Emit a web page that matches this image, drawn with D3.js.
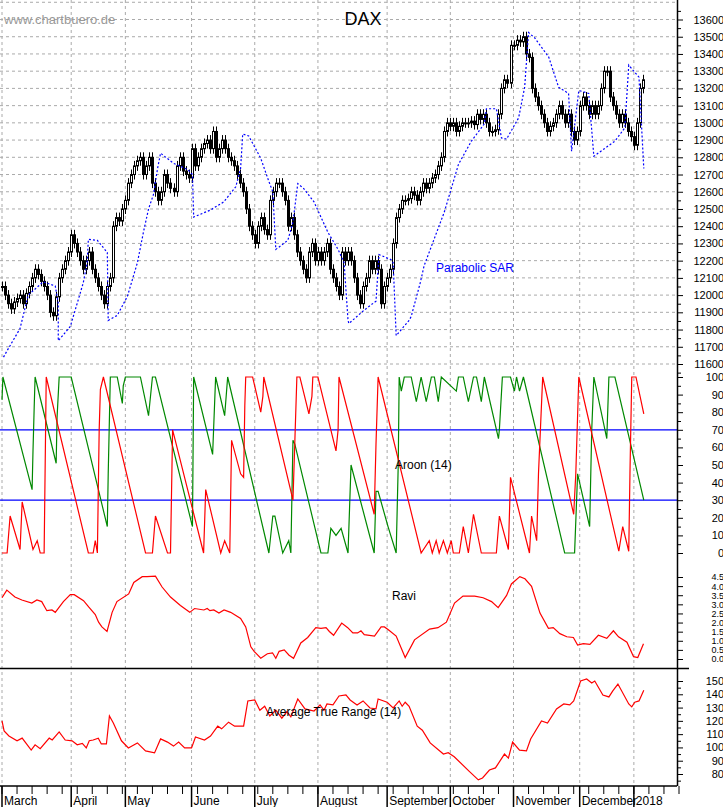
<!DOCTYPE html>
<html><head><meta charset="utf-8">
<script src="https://cdn.jsdelivr.net/npm/d3@7"></script>
<style>body{margin:0;background:#fff}svg{display:block;font-family:"Liberation Sans",Arial,sans-serif}</style>
</head><body><svg id="c" width="723" height="807"></svg>
<script>
const months=["March","April","May","June","July","August","September","October","November","December","2018"];
const monthStart=[0,23,41,63,84,105,128,149,170,192,210];
const closes=[12050,12000,11950,11920,11960,11980,12000,11950,12010,12050,12100,12150,12120,12080,12050,12000,11900,11880,11990,12100,12150,12200,12250,
12350,12300,12250,12200,12150,12200,12250,12150,12100,12050,12000,11950,12050,12100,12400,12450,12430,12500,
12550,12650,12700,12750,12780,12800,12700,12750,12800,12650,12600,12550,12600,12700,12650,12620,12600,12750,12800,12720,12700,12680,
12850,12750,12800,12850,12880,12900,12850,12950,12800,12850,12900,12850,12800,12780,12750,12700,12650,12600,12500,12400,12350,
12300,12400,12450,12380,12350,12550,12600,12650,12650,12600,12550,12400,12450,12350,12250,12200,12150,12100,12250,12300,12200,
12250,12200,12250,12300,12150,12100,12050,12000,12250,12200,12250,12200,12100,12000,11950,12050,12100,12200,12150,12200,12150,11950,12050,
12100,12150,12300,12450,12500,12550,12550,12560,12600,12580,12550,12600,12650,12620,12650,12680,12700,12750,12800,12950,13000,
12980,13000,12950,12980,13000,13000,13000,13010,12990,13050,13020,13050,13000,12950,12950,12960,13050,13200,13250,13230,13450,
13450,13480,13470,13500,13400,13380,13200,13150,13100,13050,13000,12950,12980,13000,13050,13100,13050,13000,13050,12950,12900,12950,
13100,13150,13100,13050,13100,13050,13100,13200,13300,13300,13150,13100,13050,13000,13050,13000,12950,12920,
12870,13000,13200,13250];
const sarDay=[0.5,1.7,6,8.7,13.7,17.7,18.7,18.7,22.7,25,27,28.3,28.7,31.7,35,35.3,38.3,41.7,45,47,48.7,50.3,51.7,52.7,57,61.7,63.3,63.7,69.3,73.7,77.7,79.3,80,82,86,88.7,90,91,95,96.7,98.3,100.3,103.7,108.3,111.7,113.7,115,115.3,120.3,124.3,125.3,129.3,130,131,135.3,136,139,140.3,147,151.7,156,160.3,161,164.3,165,166,167.7,171.7,173.7,175,177,181.7,185,188.3,189.3,191.7,195,196.7,203.7,207,208.3,211.7,213.3];
const sarVal=[11640,11677,11806,12000,12077,12053,11953,11735,11818,11953,12071,12188,12324,12318,12247,11853,11882,11994,12188,12365,12500,12582,12735,12824,12765,12729,12700,12453,12494,12541,12629,12735,12935,12924,12794,12659,12600,12265,12318,12424,12647,12618,12541,12365,12265,12188,11853,11835,11912,11965,12235,12206,12188,11765,11853,11876,12071,12171,12482,12759,12894,12994,13082,13082,13012,12912,12906,13029,13206,13524,13494,13382,13206,13171,12835,13188,13171,12806,12894,12971,13335,13265,12735];
const upDay=[0,0.3,10,10.3,10.7,11,18,18.3,19,23,35,35.3,36,38.3,40,40.3,41,46,48.7,50,51,63.3,63.7,70,71,74,75,88.7,90,90.7,93.3,95.3,96,96.7,97.3,106,108.3,109.3,111,112.7,115,116,123.7,124.3,125,128.3,131,131.7,132,132.7,133.7,136,137.7,139.3,141,142.7,143.7,145,146,151,151.7,153.3,155,156.7,157.7,159.3,160.3,165,165.3,166.3,169,170.3,171,172,173.3,187,190.3,191.3,195.3,196,196.7,201,201.7,203.7,213.3];
const upVal=[87,100,36,58,83,100,51,77,100,100,15,45,100,100,85,95,100,100,78,100,100,15,100,56,100,78,100,0,21,21,0,7,0,64,62,0,0,14,10,14,0,50,0,35,35,15,0,51,100,92,100,100,86,100,86,100,100,86,100,92,100,100,86,100,100,86,100,65,70,100,100,92,100,92,100,0,0,45,15,70,100,65,100,100,30];
const downDay=[0,1.7,2.7,6,6.7,10.3,11.7,12.7,14,14.3,14.7,28.7,30.3,31,31.7,32.3,32.7,33.7,47.7,50,51,55,56,56.7,67,67.7,72.7,74,75.7,76.3,79.3,80.3,80.7,81,83.3,86,86.7,87,96.7,97.3,98,99,102,103,103.3,105,111,111.7,112,123.7,124.3,125,139.3,142,143,144.3,145.3,146.7,148,149.3,150,152,153.3,155,156.7,159.3,164.3,165.3,168.3,169,175.3,176,177.7,178.3,179.7,190,190.7,191.7,205,206.3,208.3,208.7,209.3,210.7,213.3];
const downVal=[0,0,21,2,29,2,7,0,0,43,100,0,0,7,0,70,93,100,0,0,21,0,0,70,0,36,0,7,0,64,45,43,84,100,100,80,89,100,30,62,100,100,79,89,100,100,58,70,100,22,62,100,0,7,0,7,0,7,0,7,0,0,15,0,22,0,0,21,2,43,0,21,7,45,100,22,45,100,1,15,1,45,100,100,79];
const raviDay=[0,1.6,4.3,6.6,9.9,11.6,13.2,14.9,16.6,17.7,20.4,22.7,24,27.1,28.8,31,32.1,33.2,34.9,36.6,38.2,42.1,43.8,46.6,48.2,51,53.2,56,59.3,62.4,64,67.1,68.2,69.1,70.4,72.1,73.8,76,79.3,81,82.7,83.8,86,88.2,89.9,91,92.1,93.8,95.4,96.9,99.3,101.6,104.3,106,107.7,108.8,110.2,112.9,114.9,116.6,118.2,119.3,120.4,123.8,126,127.1,128.4,131,134,137.1,142.1,144.9,147.7,150.4,153.2,157.1,159.9,162.7,164.9,167.7,169.3,172.1,173.8,176,178.8,181.6,183.2,185.4,187.7,189.9,191.3,193.2,195.4,198.2,201,203.2,204.9,207.7,209.9,211.3,213.2];
const raviVal=[3.36,3.78,3.4,3.24,3.07,3.24,3.15,2.65,2.69,2.56,3.15,3.53,3.53,3.2,2.86,2.44,2.02,1.76,1.51,2.56,3.15,3.57,4.2,4.52,4.52,4.55,3.95,3.4,2.94,2.56,2.77,2.69,2.77,2.65,2.69,2.52,2.69,2.56,2.23,1.76,0.67,0.42,0.04,0.29,0.34,0.04,0.42,0.5,0.21,0.04,0.88,1.18,1.72,1.68,1.72,1.51,1.3,1.97,1.72,1.43,1.43,1.55,1.34,1.26,1.76,1.76,1.6,1.26,0.08,1.05,1.64,1.72,2.02,3.07,3.45,3.45,3.36,3.15,2.82,3.49,4.12,4.52,4.4,3.99,2.52,1.68,1.72,1.39,1.22,1.18,0.76,0.84,0.8,1.3,1.13,1.55,1.22,0.92,0.13,0.08,0.84];
const atrDay=[0,0.7,2.3,5,6.7,9.7,11,12.7,15.7,16.7,19,21,23.3,25,26.7,28,29,30.3,32,33,34.7,35.7,37,39.7,42,45,47.7,50.7,52.7,55,57,58.7,60.7,63,64.3,67.3,69.3,71.7,73,75.3,77.3,80.3,81.7,84,85.7,87.3,89,91,93,94.7,96,98.3,100.7,103.7,105.7,107,108,110,112,114.3,115.7,118,120,122.3,124.3,125,128,130,132,133,134,135.3,138,139.7,142.3,146.7,148.3,150.3,155.3,158.3,159.7,162,164,167,168.3,169.7,172,174.3,175.7,179.3,181.3,184.3,186.7,188.7,190,192.3,194.3,196,197,199.7,201.7,203,204.7,208.3,209.3,210.3,211.7,213.3];
const atrVal=[120,112.4,108.6,105,107,98,102,99,107,105.6,111.7,105.6,105,102,103,99.6,105,105.6,107,102.6,102.6,123.7,118.4,105,99.6,103.4,97.4,95.9,106.4,104,101,104,99.6,99.6,107.9,105.6,108.6,116,114,119,116,116,135,135.7,128,131,123.7,128,122,127,123,136.5,129,127.4,132,128,132.7,132,138.7,139.5,135.7,132,135,129.7,129,136.5,134,129.7,135,131,134,131,116,113,103.4,95,96,93,82,75.6,77,83,84.6,95,92,104,98,97.4,106.4,120,118.4,129,132.7,132,135,150,151.5,148.5,150,139.5,138,142.5,147.7,132.7,130.5,134,135,143];
const priceTicks=d3.range(11600,13601,100);
const aroonTicks=d3.range(0,101,10);
const raviTicks=d3.range(0,4.51,0.5);
const atrTicks=d3.range(80,151,10);

const svg=d3.select("#c");
const R=677, B=786;
const x=d3.scaleLinear().domain([0,225]).range([2,R+2]);
const yP=d3.scaleLinear().domain([11600,13600]).range([364,19.5]);
const yA=d3.scaleLinear().domain([0,100]).range([553,377]);
const yR=d3.scaleLinear().domain([0,4.5]).range([659,577]);
const yT=d3.scaleLinear().domain([80,150]).range([774,681]);

svg.append("g").selectAll("line").data(monthStart).join("line")
 .attr("x1",d=>x(d)).attr("x2",d=>x(d)).attr("y1",0).attr("y2",B)
 .attr("stroke","#aaa").attr("stroke-dasharray","3,3");
svg.append("g").selectAll("line").data(d3.range(11600,13701,100)).join("line")
 .attr("x1",0).attr("x2",R).attr("y1",d=>yP(d)).attr("y2",d=>yP(d))
 .attr("stroke","#aaa").attr("stroke-dasharray","3,3");

const opens=closes.map((c,i)=>i?closes[i-1]:c);
const cg=svg.append("g");
closes.forEach((c,i)=>{
  const o=opens[i], top=Math.max(o,c), bot=Math.min(o,c);
  const cx=Math.round(x(i))+0.5;
  cg.append("line").attr("x1",cx).attr("x2",cx).attr("y1",yP(top)-5).attr("y2",yP(bot)+5).attr("stroke","#000").attr("stroke-width",1);
  cg.append("rect").attr("x",cx-1).attr("y",yP(top)).attr("width",2).attr("height",Math.max(1,yP(bot)-yP(top)))
   .attr("fill",c>=o?"#fff":"#000").attr("stroke","#000").attr("stroke-width",1);
});
svg.append("path").datum(d3.zip(sarDay,sarVal)).attr("fill","none").attr("stroke","#00f").attr("stroke-width",1.2)
 .attr("stroke-dasharray","2,2").attr("d",d3.line().x(d=>x(d[0])).y(d=>yP(d[1])));

[30,70].forEach(v=>svg.append("line").attr("x1",0).attr("x2",R).attr("y1",yA(v)).attr("y2",yA(v)).attr("stroke","#00f").attr("stroke-width",1.3));
const la=d3.line().x(d=>x(d[0])).y(d=>yA(d[1]));
svg.append("path").datum(d3.zip(upDay,upVal)).attr("fill","none").attr("stroke","#080").attr("stroke-width",1.2).attr("d",la);
svg.append("path").datum(d3.zip(downDay,downVal)).attr("fill","none").attr("stroke","#f00").attr("stroke-width",1.2).attr("d",la);
svg.append("path").datum(d3.zip(raviDay,raviVal)).attr("fill","none").attr("stroke","#f00").attr("stroke-width",1.2)
 .attr("d",d3.line().x(d=>x(d[0])).y(d=>yR(d[1])));
svg.append("path").datum(d3.zip(atrDay,atrVal)).attr("fill","none").attr("stroke","#f00").attr("stroke-width",1.2)
 .attr("d",d3.line().x(d=>x(d[0])).y(d=>yT(d[1])));
svg.append("line").attr("x1",0).attr("x2",R+12).attr("y1",668.5).attr("y2",668.5).attr("stroke","#000").attr("stroke-width",1.5);

function rAxis(scale,ticks,fmt,minor,fs){
  const g=svg.append("g").attr("transform",`translate(${R},0)`);
  g.call(d3.axisRight(scale).tickValues(ticks).tickFormat(fmt).tickSize(6).tickPadding(14));
  g.select(".domain").remove();
  g.selectAll("text").attr("text-anchor","end").attr("dx","27").style("font-size",fs).style("font-family","Liberation Sans, Arial");
  if(minor){const gm=svg.append("g").attr("transform",`translate(${R},0)`);
    gm.call(d3.axisRight(scale).tickValues(minor).tickFormat("").tickSize(4)); gm.select(".domain").remove();}
}
rAxis(yP,priceTicks,d3.format("d"),d3.range(11550,13700,100),"11px");
rAxis(yA,aroonTicks,d3.format("d"),d3.range(5,100,10),"11px");
rAxis(yR,raviTicks,d3.format(".1f"),null,"9px");
rAxis(yT,atrTicks,d3.format("d"),d3.range(75,155,10),"11px");
svg.append("line").attr("x1",R+0.5).attr("x2",R+0.5).attr("y1",0).attr("y2",B).attr("stroke","#000").attr("stroke-width",1.5);

svg.append("line").attr("x1",0).attr("x2",R).attr("y1",B).attr("y2",B).attr("stroke","#000").attr("stroke-width",1.5);
const weeks=d3.range(0,226,5);
svg.append("g").selectAll("line").data(weeks).join("line").attr("x1",d=>x(d)).attr("x2",d=>x(d)).attr("y1",B).attr("y2",B+8).attr("stroke","#000");
svg.append("g").selectAll("line").data(monthStart).join("line").attr("x1",d=>x(d)).attr("x2",d=>x(d)).attr("y1",B).attr("y2",807).attr("stroke","#000").attr("stroke-width",1.5);
svg.append("g").selectAll("text").data(months).join("text").attr("x",(d,i)=>x(monthStart[i])+2).attr("y",805)
 .text(d=>d).style("font-size","12px").attr("fill","#000");

svg.append("text").attr("x",363).attr("y",25).attr("text-anchor","middle").style("font-size","18px").text("DAX");
svg.append("text").attr("x",4).attr("y",24).style("font-size","13px").attr("fill","#999").text("www.chartbuero.de");
svg.append("text").attr("x",436).attr("y",272).style("font-size","12px").attr("fill","#00f").text("Parabolic SAR");
svg.append("text").attr("x",395).attr("y",469).style("font-size","12px").text("Aroon (14)");
svg.append("text").attr("x",392).attr("y",600).style("font-size","12px").text("Ravi");
svg.append("text").attr("x",266).attr("y",716).style("font-size","12px").text("Average True Range (14)");
</script></body></html>
